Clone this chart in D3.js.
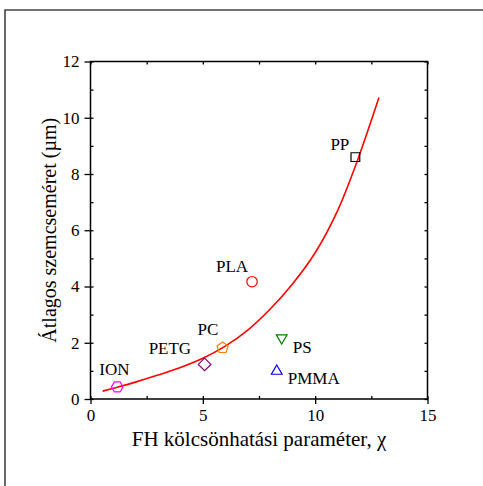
<!DOCTYPE html>
<html>
<head>
<meta charset="utf-8">
<script src="https://cdn.jsdelivr.net/npm/d3@7"></script>
</head>
<body style="margin:0; background:#fff">
<script>
// polymer samples
const names = ["ION", "PETG", "PC", "PLA", "PS", "PMMA", "PP"];
const chi = [1.19, 5.08, 5.88, 7.19, 8.51, 8.29, 11.79];
const size = [0.43, 1.23, 1.82, 4.17, 2.17, 0.99, 8.6];

// fitted curve
const fitX = [0.54, 1.2, 2, 3, 4, 5, 6, 7, 8, 9, 10, 11, 11.8, 12.84];
const fitY = [0.28, 0.42, 0.6, 0.85, 1.12, 1.45, 1.88, 2.45, 3.2, 4.1, 5.2, 6.7, 8.3, 10.72];

const xTicks = [0, 5, 10, 15];
const yTicks = [0, 2, 4, 6, 8, 10, 12];

const xTitle = "FH kölcsönhatási paraméter, χ";
const yTitle = "Átlagos szemcseméret (µm)";

const FONT = "Liberation Serif";

// marker look + label placement (pixels, relative to the point)
const markers = {
    ION:  {shape: "hexagon", color: "#ff00ff", dx: -18, dy: -12},
    PETG: {shape: "diamond", color: "#800080", dx: -56, dy: -10},
    PC:   {shape: "pentagon", color: "#ff8000", dx: -25, dy: -13},
    PLA:  {shape: "circle", color: "#ff0000", dx: -36, dy: -10},
    PS:   {shape: "triDown", color: "#008000", dx: 11, dy: 15},
    PMMA: {shape: "triUp", color: "#0000ff", dx: 11, dy: 13},
    PP:   {shape: "square", color: "#000000", dx: -25, dy: -7}
};

const width = 483, height = 486;
const margin = {left: 90.5, top: 61.5, right: 55.5, bottom: 87};

const svg = d3.select("body")
    .append("svg")
    .attr("width", width)
    .attr("height", height)
    .attr("font-family", FONT);

// outer frame
svg.append("path")
    .attr("d", "M5,490 L5,10 L490,10")
    .attr("fill", "none")
    .attr("stroke", "#444")
    .attr("stroke-width", 1.6);

const x = d3.scaleLinear().domain([0, 15]).range([margin.left, width - margin.right]);
const y = d3.scaleLinear().domain([0, 12]).range([height - margin.bottom, margin.top]);

const x0 = x.range()[0], x1 = x.range()[1];
const y0 = y.range()[0], y1 = y.range()[1];

const minorX = d3.range(0, 15.01, 2.5);
const minorY = d3.range(0, 12.01, 1);

function styleText(sel, fs) {
    sel.attr("font-family", FONT)
        .style("font-family", "'" + FONT + "'")
        .attr("font-size", fs)
        .attr("fill", "#000");
}

// bottom axis
svg.append("g")
    .attr("transform", "translate(0," + y0 + ")")
    .call(d3.axisBottom(x).tickValues(minorX).tickSize(-3).tickFormat(""))
    .call(g => g.select(".domain").remove());
svg.append("g")
    .attr("class", "x axis")
    .attr("transform", "translate(0," + y0 + ")")
    .call(d3.axisBottom(x).tickValues(xTicks).tickSize(5).tickPadding(5).tickFormat(d3.format("d")))
    .attr("font-family", FONT)
    .call(g => g.select(".domain").remove())
    .selectAll("text")
    .call(styleText, 17);

// left axis
svg.append("g")
    .attr("transform", "translate(" + x0 + ",0)")
    .call(d3.axisLeft(y).tickValues(minorY).tickSize(-3).tickFormat(""))
    .call(g => g.select(".domain").remove());
svg.append("g")
    .attr("class", "y axis")
    .attr("transform", "translate(" + x0 + ",0)")
    .call(d3.axisLeft(y).tickValues(yTicks).tickSize(6).tickPadding(5).tickFormat(d3.format("d")))
    .attr("font-family", FONT)
    .call(g => g.select(".domain").remove())
    .selectAll("text")
    .call(styleText, 17);

// top and right, inward ticks only
svg.append("g")
    .attr("transform", "translate(0," + y1 + ")")
    .call(d3.axisTop(x).tickValues(minorX).tickSize(-3).tickFormat(""))
    .call(g => g.select(".domain").remove());
svg.append("g")
    .attr("transform", "translate(" + x1 + ",0)")
    .call(d3.axisRight(y).tickValues(minorY).tickSize(-3).tickFormat(""))
    .call(g => g.select(".domain").remove());

svg.selectAll(".tick line").attr("stroke", "#000").attr("stroke-width", 1.3);

// plot box
svg.append("rect")
    .attr("x", x0).attr("y", y1)
    .attr("width", x1 - x0).attr("height", y0 - y1)
    .attr("fill", "none")
    .attr("stroke", "#000")
    .attr("stroke-width", 1.5);

// fit curve
const fit = fitX.map((d, i) => [d, fitY[i]]);
svg.append("path")
    .datum(fit)
    .attr("fill", "none")
    .attr("stroke", "#ff0000")
    .attr("stroke-width", 1.6)
    .attr("d", d3.line().x(d => x(d[0])).y(d => y(d[1])).curve(d3.curveCatmullRom.alpha(0.5)));

function poly(n, r, rot) {
    const pts = d3.range(n).map(i => {
        const a = rot + i * 2 * Math.PI / n;
        return [r * Math.cos(a), r * Math.sin(a)];
    });
    return "M" + pts.join("L") + "Z";
}

const shapes = {
    hexagon: poly(6, 5.8, 0),
    diamond: poly(4, 6.3, -Math.PI / 2),
    pentagon: poly(5, 5.8, -Math.PI / 2),
    circle: d3.symbol().type(d3.symbolCircle).size(Math.PI * 5.2 * 5.2)(),
    triDown: poly(3, 6.2, Math.PI / 2),
    triUp: poly(3, 6.2, -Math.PI / 2),
    square: poly(4, 6.2, Math.PI / 4)
};

const points = names.map((n, i) => ({name: n, x: chi[i], y: size[i]}));

svg.selectAll(".pt")
    .data(points)
    .enter()
    .append("path")
    .attr("class", "pt")
    .attr("transform", d => "translate(" + x(d.x) + "," + y(d.y) + ")")
    .attr("d", d => shapes[markers[d.name].shape])
    .attr("fill", "none")
    .attr("stroke", d => markers[d.name].color)
    .attr("stroke-width", 1.2);

svg.selectAll(".lbl")
    .data(points)
    .enter()
    .append("text")
    .attr("class", "lbl")
    .attr("x", d => x(d.x) + markers[d.name].dx)
    .attr("y", d => y(d.y) + markers[d.name].dy)
    .call(styleText, 17)
    .text(d => d.name);

// axis titles
svg.append("text")
    .attr("x", (x0 + x1) / 2)
    .attr("y", 446)
    .attr("text-anchor", "middle")
    .call(styleText, 21)
    .text(xTitle);

svg.append("text")
    .attr("transform", "translate(" + 56 + "," + ((y0 + y1) / 2) + ") rotate(-90)")
    .attr("text-anchor", "middle")
    .call(styleText, 20)
    .text(yTitle);
</script>
</body>
</html>
